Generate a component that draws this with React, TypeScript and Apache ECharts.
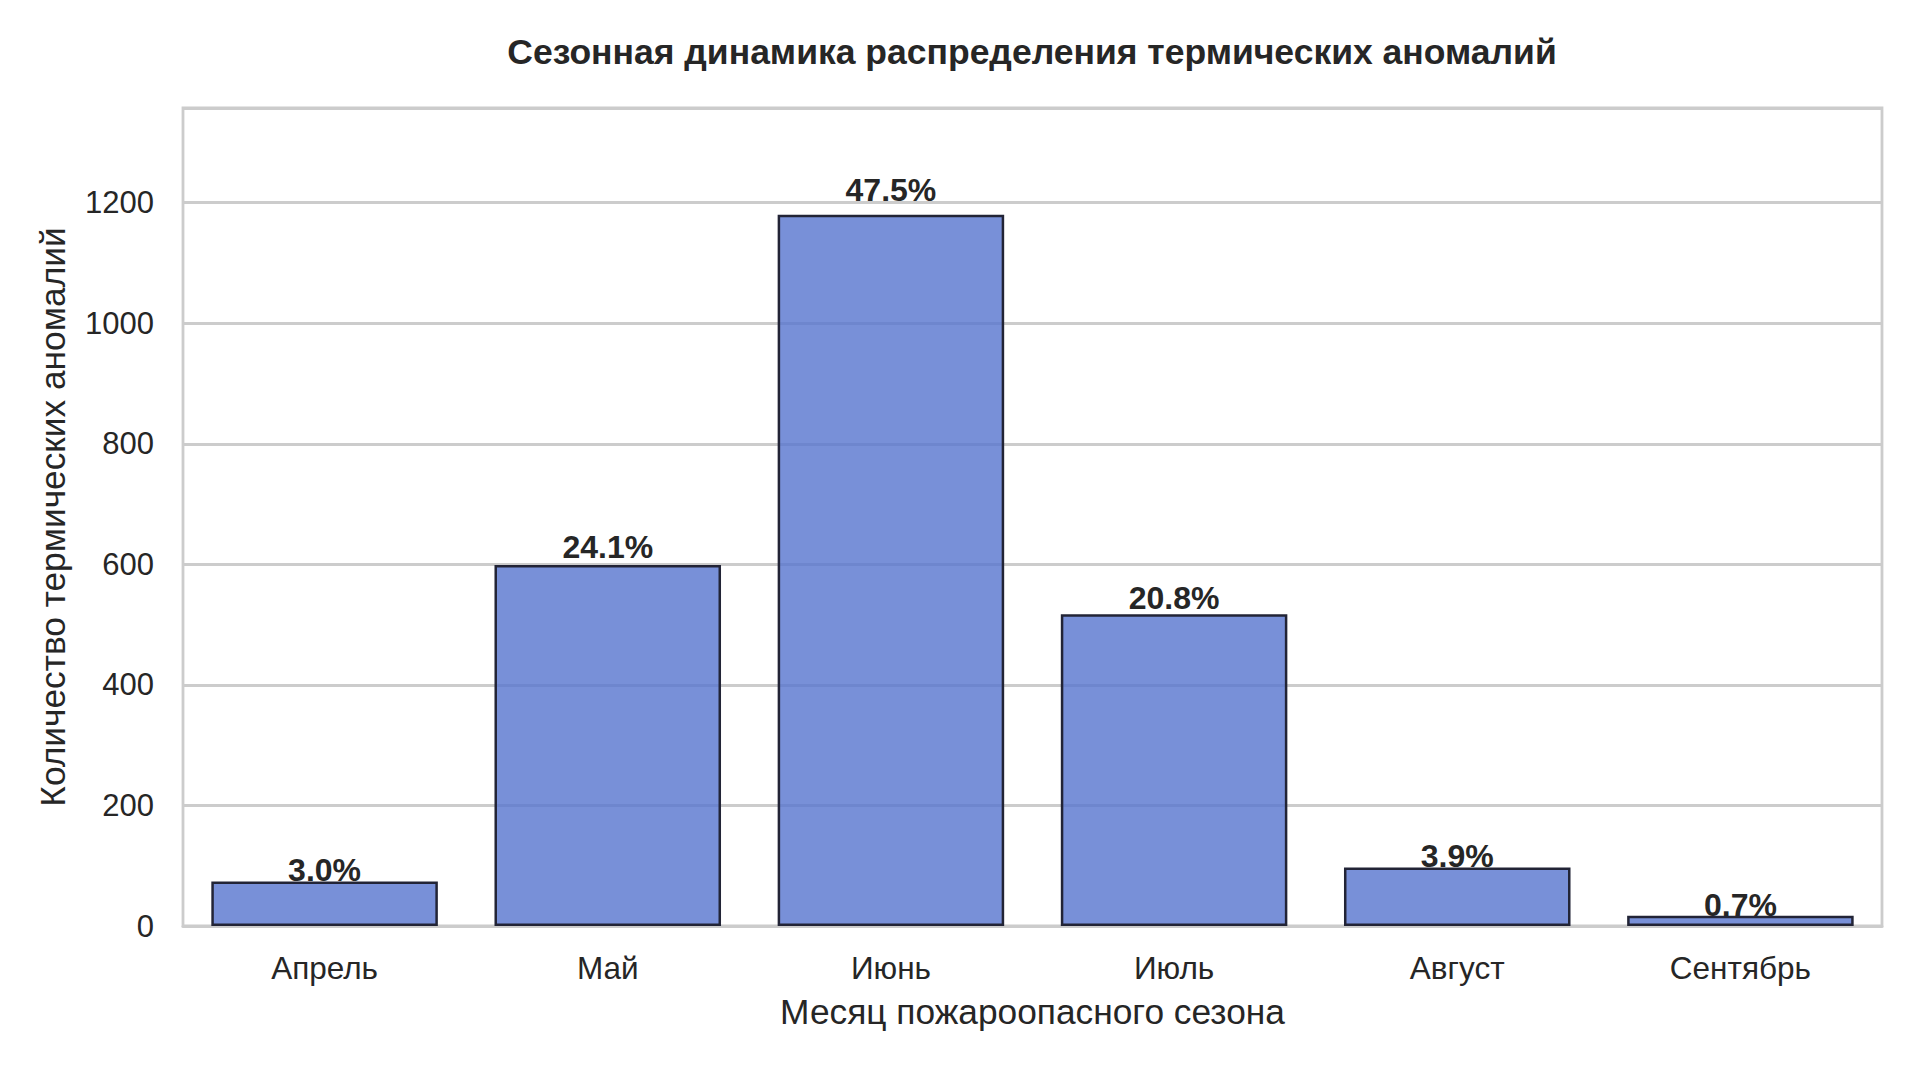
import React, { useEffect, useRef } from "react";
import * as echarts from "echarts";

const months = ["Апрель", "Май", "Июнь", "Июль", "Август", "Сентябрь"];
const counts = [74, 599, 1180, 517, 97, 17];
const percentLabels = ["3.0%", "24.1%", "47.5%", "20.8%", "3.9%", "0.7%"];
const yTicks = [0, 200, 400, 600, 800, 1000, 1200];

const titleText = "Сезонная динамика распределения термических аномалий";
const xName = "Месяц пожароопасного сезона";
const yName = "Количество термических аномалий";

const FONT = "'Liberation Sans', Arial, Helvetica, sans-serif";
const TEXT = "#262626";
const GRIDC = "#cccccc";

export default function App() {
  const ref = useRef<HTMLDivElement>(null);
  useEffect(() => {
    if (!ref.current) return;
    const chart = echarts.init(ref.current, undefined, { renderer: "svg" });
    const maxVal = Math.max(...counts) * 1.15;
    chart.setOption({
      animation: false,
      backgroundColor: "#ffffff",
      textStyle: { fontFamily: FONT, color: TEXT },
      title: {
        text: titleText,
        left: 1027,
        top: 29,
        textAlign: "center",
        textStyle: { fontFamily: FONT, fontSize: 35.5, fontWeight: "bold", color: TEXT },
      },
      grid: {
        left: 183,
        right: 38,
        top: 108,
        bottom: 140,
        show: true,
        borderColor: GRIDC,
        borderWidth: 2.8,
        backgroundColor: "transparent",
      },
      xAxis: {
        type: "category",
        data: months,
        boundaryGap: true,
        axisTick: { show: false },
        axisLine: { show: true, lineStyle: { color: GRIDC, width: 2.8 } },
        axisLabel: { fontFamily: FONT, fontSize: 31.5, color: TEXT, margin: 26 },
        splitLine: { show: false },
        name: xName,
        nameLocation: "middle",
        nameGap: 68,
        nameTextStyle: { fontFamily: FONT, fontSize: 35.3, color: TEXT },
      },
      yAxis: {
        type: "value",
        min: yTicks[0],
        max: maxVal,
        interval: yTicks[1] - yTicks[0],
        axisTick: { show: false },
        axisLine: { show: false },
        axisLabel: {
          fontFamily: FONT,
          fontSize: 31,
          color: TEXT,
          margin: 29,
          showMaxLabel: false,
          formatter: (v: number) => (yTicks.includes(v) ? String(v) : ""),
        },
        splitLine: { show: true, lineStyle: { color: GRIDC, width: 2.8 } },
        name: yName,
        nameLocation: "middle",
        nameGap: 113,
        nameRotate: 90,
        nameTextStyle: { fontFamily: FONT, fontSize: 35.3, color: TEXT },
      },
      series: [
        {
          type: "bar",
          z: 2,
          data: counts,
          barWidth: "80%",
          itemStyle: {
            color: "rgba(86,116,206,0.8)",
            borderColor: "#222436",
            borderWidth: 2.5,
          },
        },
        {
          type: "scatter",
          z: 1,
          symbolSize: 0,
          itemStyle: { opacity: 1 },
          data: counts.map((c, i) => ({ value: c * 1.02, name: percentLabels[i] })),
          label: {
            show: true,
            position: "top",
            distance: 0,
            offset: [0, 5.5],
            opacity: 1,
            formatter: (p: any) => p.name,
            fontFamily: FONT,
            fontSize: 32,
            fontWeight: "bold",
            color: TEXT,
          },
          silent: true,
        },
      ],
    });
    return () => chart.dispose();
  }, []);
  return (
    <div
      ref={ref}
      style={{ position: "absolute", left: 0, top: 0, width: 1920, height: 1066 }}
    />
  );
}
